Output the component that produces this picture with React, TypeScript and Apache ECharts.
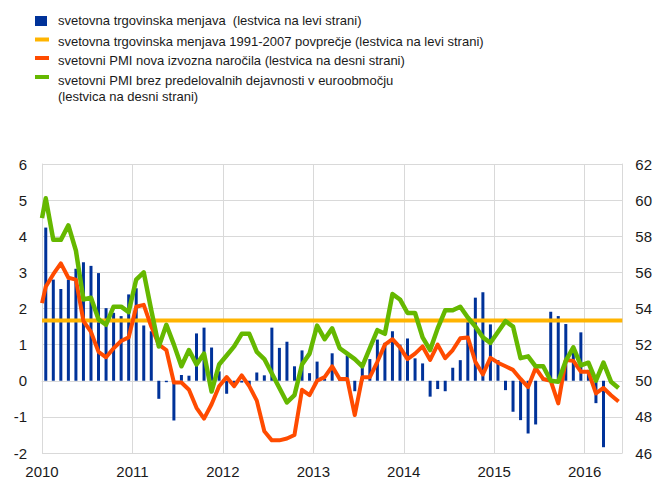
import React, { useEffect, useRef } from "react";
import * as echarts from "echarts";

// Tick labels (years) for the x axis
const yearLabels = ["2010", "2011", "2012", "2013", "2014", "2015", "2016"];

// Monthly world trade growth, Jan 2010 – Mar 2016 (left scale)
const tradeGrowth = [
  4.24, 2.8, 2.54, 2.8, 3.1, 3.28, 3.18, 2.98, 2.01, 1.88, 1.79, 2.39,
  2.56, 1.53, 1.37, -0.5, -0.04, -1.1, 0.16, 0.14, 1.31, 1.47, 0.92, 0.26,
  -0.36, -0.1, -0.05, -0.14, 0.23, 0.15, 1.47, 0.91, 1.08, 0.4, 0.84, 0.21,
  0.53, 0.05, 0.76, 0.05, 0.7, -0.29, 0.36, 0.6, 1.14, 1.05, 1.37, 1.0,
  1.17, 0.62, 0.48, -0.44, -0.23, -0.29, 0.36, 0.57, 1.63, 2.3, 2.45, 1.56,
  0.57, -0.26, -0.86, -1.09, -1.46, -1.21, 0.05, 1.91, 1.79, 1.57, 0.85, 1.34,
  0.3, -0.62, -1.84,
];

// 1991-2007 average of world trade growth (left scale)
const tradeAverage = [1.67];

// Global PMI new export orders (right scale): value where the line enters at the
// 2010 axis edge, then Jan 2010 – May 2016
const pmiExportOrdersStart = 54.3;
const pmiExportOrders = [
  55.2, 55.9, 56.5, 55.7, 55.6, 53.3, 52.7, 51.6, 51.3, 51.8, 52.2, 52.4,
  54.1, 54.2, 53.0, 52.0, 51.7, 49.9, 49.9, 49.5, 48.5, 47.9, 48.7, 49.7,
  50.2, 49.7, 50.3, 49.7, 48.9, 47.2, 46.7, 46.7, 46.8, 47.0, 49.5, 49.2,
  50.0, 50.2, 50.8, 50.1, 50.1, 48.1, 50.2, 50.2, 51.05, 52.0, 52.3, 51.85,
  51.2, 51.5, 51.9, 51.15, 52.0, 51.25, 51.7, 52.35, 52.4, 51.05, 50.35, 51.27,
  51.0, 50.8, 50.6, 50.1, 49.65, 50.7, 50.1, 50.0, 48.75, 51.15, 51.1, 50.5,
  50.5, 49.3, 49.6, 49.2, 48.85,
];

// Global PMI excluding euro area manufacturing (right scale): value at the
// 2010 axis edge, then Jan 2010 – May 2016
const pmiExEuroAreaStart = 59.0;
const pmiExEuroArea = [
  60.1, 57.8, 57.8, 58.6, 57.2, 54.5, 54.6, 53.4, 53.1, 54.1, 54.1, 53.8,
  55.6, 56.0, 53.9, 51.9, 53.1, 52.0, 50.8, 51.7, 50.9, 51.5, 49.4, 50.9,
  51.4, 51.9, 52.6, 52.6, 51.6, 51.2, 50.4, 49.6, 48.8, 49.2, 50.9, 51.5,
  53.05, 52.3, 52.9, 51.8, 51.5, 51.2, 50.8, 51.8, 52.8, 52.6, 54.8, 54.5,
  53.75, 53.75, 52.4, 51.7, 52.9, 53.9, 53.9, 54.1, 53.5, 53.0, 52.4, 52.1,
  52.7, 53.3, 53.0, 51.25, 51.35, 50.8, 50.8, 50.0, 49.95, 51.1, 51.85, 50.85,
  51.0, 50.0, 51.0, 49.95, 49.6,
];

const legendNames = [
  "svetovna trgovinska menjava  (lestvica na levi strani)",
  "svetovna trgovinska menjava 1991-2007 povprečje (lestvica na levi strani)",
  "svetovni PMI nova izvozna naročila (lestvica na desni strani)",
  "svetovni PMI brez predelovalnih dejavnosti v euroobmočju",
  "(lestvica na desni strani)",
];

const BLUE = "#003299";
const YELLOW = "#ffb400";
const RED = "#ff4b00";
const GREEN = "#65b800";
const GRIDC = "#d9d9d9";
const FONT = "Liberation Sans, Arial, sans-serif";
const TXT = "#1a1a1a";

const MONTHS_SPAN = 77; // Jan 2010 .. May 2016

export default function App() {
  const ref = useRef<HTMLDivElement>(null);

  useEffect(() => {
    if (!ref.current) return;
    const chart = echarts.init(ref.current, undefined, { renderer: "svg" });

    const barData = tradeGrowth.map((v, i) => [i + 0.5, v]);
    const redData = [[0, pmiExportOrdersStart]].concat(
      pmiExportOrders.map((v, i) => [i + 0.5, v])
    );
    const greenData = [[0, pmiExEuroAreaStart]].concat(
      pmiExEuroArea.map((v, i) => [i + 0.5, v])
    );
    const avgData = [
      [0, tradeAverage[0]],
      [MONTHS_SPAN, tradeAverage[0]],
    ];

    const legendRows = [
      { y: 20.5, icon: { x: 35, y: 16, w: 12, h: 10, c: BLUE } },
      { y: 41, icon: { x: 35, y: 37.5, w: 14, h: 4, c: YELLOW } },
      { y: 60.5, icon: { x: 35, y: 56, w: 14, h: 4, c: RED } },
      { y: 80, icon: { x: 35, y: 75, w: 14, h: 4, c: GREEN } },
      { y: 96.5, icon: null as any },
    ];

    const graphics: any[] = [];
    legendRows.forEach((r, i) => {
      if (r.icon) {
        graphics.push({
          type: "rect",
          shape: { x: r.icon.x, y: r.icon.y, width: r.icon.w, height: r.icon.h },
          style: { fill: r.icon.c },
        });
      }
      graphics.push({
        type: "text",
        x: 58,
        y: r.y,
        style: {
          text: legendNames[i],
          fill: TXT,
          font: `13px ${FONT}`,
          verticalAlign: "middle",
          align: "left",
        },
      });
    });

    chart.setOption({
      animation: false,
      backgroundColor: "#ffffff",
      textStyle: { fontFamily: FONT },
      grid: { left: 42, right: 31, top: 164, bottom: 26, containLabel: false },
      graphic: graphics,
      xAxis: {
        type: "value",
        min: 0,
        max: MONTHS_SPAN,
        interval: 12,
        axisLine: { show: true, lineStyle: { color: GRIDC, width: 1 } },
        axisTick: { show: false },
        splitLine: { show: true, lineStyle: { color: GRIDC, width: 1 } },
        axisLabel: {
          color: TXT,
          fontSize: 15,
          fontFamily: FONT,
          margin: 11,
          showMaxLabel: true,
          formatter: (v: number) =>
            v % 12 === 0 ? yearLabels[v / 12] ?? "" : "",
        },
      },
      yAxis: [
        {
          type: "value",
          min: -2,
          max: 6,
          interval: 1,
          position: "left",
          axisLine: { show: true, lineStyle: { color: GRIDC } },
          axisTick: { show: false },
          splitLine: { show: true, lineStyle: { color: GRIDC, width: 1 } },
          axisLabel: { color: TXT, fontSize: 15, fontFamily: FONT, margin: 15 },
        },
        {
          type: "value",
          min: 46,
          max: 62,
          interval: 2,
          position: "right",
          axisLine: { show: true, lineStyle: { color: GRIDC } },
          axisTick: { show: false },
          splitLine: { show: false },
          axisLabel: { color: TXT, fontSize: 15, fontFamily: FONT, margin: 13 },
        },
      ],
      series: [
        {
          name: legendNames[0],
          type: "bar",
          yAxisIndex: 0,
          data: barData,
          barWidth: 3,
          itemStyle: { color: BLUE },
        },
        {
          name: legendNames[1],
          type: "line",
          yAxisIndex: 0,
          data: avgData,
          symbol: "none",
          lineStyle: { color: YELLOW, width: 4 },
        },
        {
          name: legendNames[2],
          type: "line",
          yAxisIndex: 1,
          data: redData,
          symbol: "none",
          lineStyle: { color: RED, width: 4, join: "round" },
        },
        {
          name: legendNames[3],
          type: "line",
          yAxisIndex: 1,
          data: greenData,
          symbol: "none",
          lineStyle: { color: GREEN, width: 4.5, join: "round" },
        },
      ],
    });

    return () => chart.dispose();
  }, []);

  return (
    <div
      ref={ref}
      style={{ position: "absolute", left: 0, top: 0, width: 655, height: 479 }}
    />
  );
}
